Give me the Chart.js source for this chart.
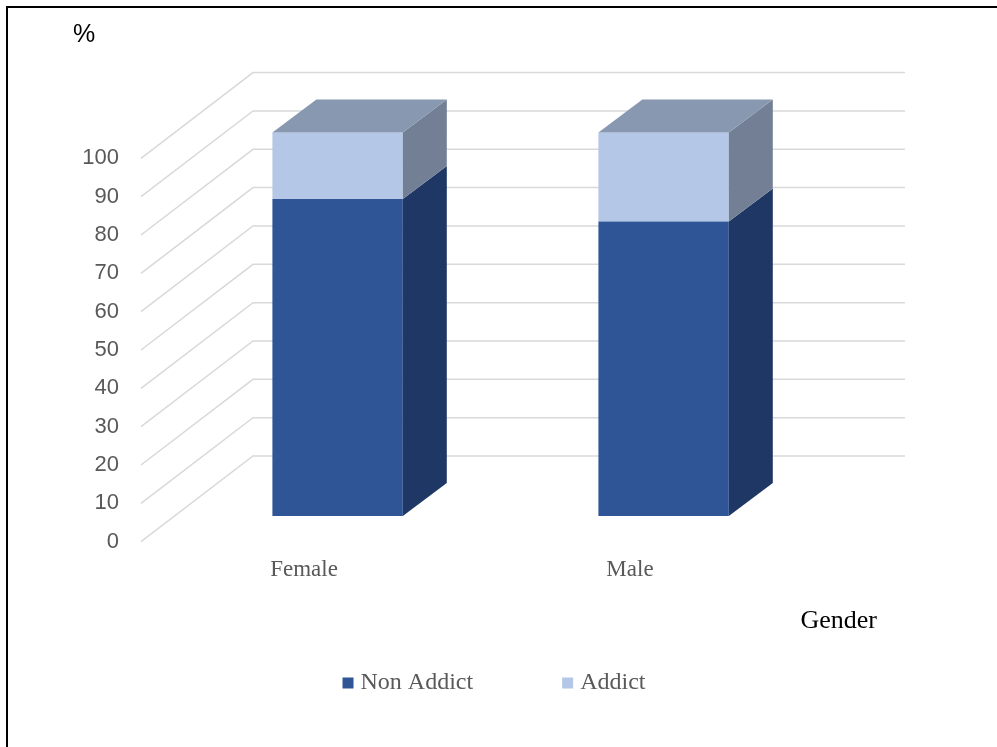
<!DOCTYPE html>
<html>
<head>
<meta charset="utf-8">
<title>Addiction by gender</title>
<script src="https://cdn.jsdelivr.net/npm/chart.js@4.4.1/dist/chart.umd.min.js"></script>
<style>
    html, body { margin: 0; padding: 0; background: #ffffff; }
    body { width: 997px; height: 747px; position: relative; overflow: hidden; }
    #frame {
        position: absolute; left: 6px; top: 6px; right: 0; bottom: 0;
        border-left: 2px solid #000; border-top: 2px solid #000;
    }
    #chart { position: absolute; left: 0; top: 0; }
</style>
</head>
<body>
<div id="frame"></div>
<canvas id="chart" width="997" height="747"></canvas>
<script>
// Data (percent of each gender)
const categories = ['Female', 'Male'];
const seriesNames = ['Non Addict', 'Addict'];
const nonAddict = [82.7, 76.8];
const addict = [17.3, 23.2];
const yMin = 0;
const yMax = 100;
const yStep = 10;

// Colours: front, side, top
const frontColors = ['#2F5597', '#B4C7E7'];
const sideColors = ['#1F3764', '#737F94'];
const topColor = '#8798B0';
const gridColor = '#D9D9D9';

document.addEventListener('DOMContentLoaded', function () {
    // depth of the whole box, and where the bars sit inside it
    const wallDx = 112, wallDy = -85.7;
    const barDx = 33.6, barDy = -25.7;
    const depthDx = 44, depthDy = -33;

    const fake3d = {
        id: 'fake3d',
        beforeDatasetsDraw(chart) {
            const ctx = chart.ctx;
            const area = chart.chartArea;
            const y = chart.scales.y;

            // back wall lines + the slanted lines on the left wall
            ctx.save();
            ctx.strokeStyle = gridColor;
            ctx.lineWidth = 1.5;
            y.ticks.forEach(t => {
                const py = y.getPixelForValue(t.value);
                ctx.beginPath();
                ctx.moveTo(area.left, py);
                ctx.lineTo(area.left + wallDx, py + wallDy);
                ctx.lineTo(area.right + wallDx, py + wallDy);
                ctx.stroke();
            });
            ctx.restore();

            // push the bar fronts into the box
            ctx.save();
            ctx.translate(barDx, barDy);
        },
        afterDatasetsDraw(chart) {
            const ctx = chart.ctx;
            ctx.restore();

            const last = chart.data.datasets.length - 1;
            chart.data.datasets.forEach((ds, di) => {
                const meta = chart.getDatasetMeta(di);
                meta.data.forEach(bar => {
                    const p = bar.getProps(['x', 'y', 'base', 'width'], true);
                    const xl = p.x - p.width / 2 + barDx;
                    const xr = p.x + p.width / 2 + barDx;
                    const yt = p.y + barDy;
                    const yb = p.base + barDy;

                    // right side
                    ctx.fillStyle = sideColors[di];
                    ctx.beginPath();
                    ctx.moveTo(xr, yt);
                    ctx.lineTo(xr + depthDx, yt + depthDy);
                    ctx.lineTo(xr + depthDx, yb + depthDy);
                    ctx.lineTo(xr, yb);
                    ctx.closePath();
                    ctx.fill();

                    // lid on the top segment only
                    if (di === last) {
                        ctx.fillStyle = topColor;
                        ctx.beginPath();
                        ctx.moveTo(xl, yt);
                        ctx.lineTo(xr, yt);
                        ctx.lineTo(xr + depthDx, yt + depthDy);
                        ctx.lineTo(xl + depthDx, yt + depthDy);
                        ctx.closePath();
                        ctx.fill();
                    }
                });
            });
        },
        afterDraw(chart) {
            // axis name sits right of the plot
            const ctx = chart.ctx;
            ctx.save();
            ctx.font = '26px "Liberation Serif", "Times New Roman", serif';
            ctx.fillStyle = '#000000';
            ctx.textAlign = 'right';
            ctx.textBaseline = 'alphabetic';
            ctx.fillText('Gender', chart.chartArea.right + 84, 628);
            ctx.restore();
        }
    };

    const ctx = document.getElementById('chart');
    new Chart(ctx, {
        type: 'bar',
        data: {
            labels: categories,
            datasets: [
                { label: seriesNames[0], data: nonAddict, backgroundColor: frontColors[0] },
                { label: seriesNames[1], data: addict, backgroundColor: frontColors[1] }
            ]
        },
        options: {
            responsive: false,
            animation: false,
            events: [],
            layout: { padding: { left: 73, right: 77, top: 0, bottom: 42 } },
            datasets: {
                bar: {
                    categoryPercentage: 1,
                    barPercentage: 0.4,
                    borderWidth: 0,
                    clip: false
                }
            },
            scales: {
                x: {
                    stacked: true,
                    grid: { display: false, drawTicks: false },
                    border: { display: false },
                    ticks: {
                        padding: 14.5,
                        color: '#595959',
                        font: { family: '"Liberation Serif", "Times New Roman", serif', size: 23 }
                    },
                    afterFit(scale) { scale.height = 35.3; }
                },
                y: {
                    stacked: true,
                    min: yMin,
                    max: yMax,
                    grid: { display: false, drawTicks: false },
                    border: { display: false },
                    ticks: {
                        stepSize: yStep,
                        padding: 22,
                        color: '#595959',
                        font: { family: '"Liberation Sans", Arial, sans-serif', size: 22 }
                    },
                    afterFit(scale) { scale.width = 68; }
                },
                // empty right box, only to keep the plot narrower than the legend row
                y2: {
                    position: 'right',
                    grid: { display: false, drawTicks: false },
                    border: { display: false },
                    ticks: { display: false },
                    afterFit(scale) { scale.width = 127; }
                }
            },
            plugins: {
                title: {
                    display: true,
                    text: '%',
                    align: 'start',
                    color: '#000000',
                    font: { family: '"Liberation Sans", Arial, sans-serif', size: 25, weight: 'normal' },
                    padding: { top: 20, bottom: 108.3 }
                },
                legend: {
                    position: 'bottom',
                    labels: {
                        usePointStyle: true,
                        pointStyle: 'rect',
                        boxWidth: 1,
                        boxHeight: 11,
                        padding: 94,
                        color: '#595959',
                        font: { family: '"Liberation Serif", "Times New Roman", serif', size: 24 }
                    }
                },
                tooltip: { enabled: false }
            }
        },
        plugins: [fake3d]
    });
});
</script>
</body>
</html>
